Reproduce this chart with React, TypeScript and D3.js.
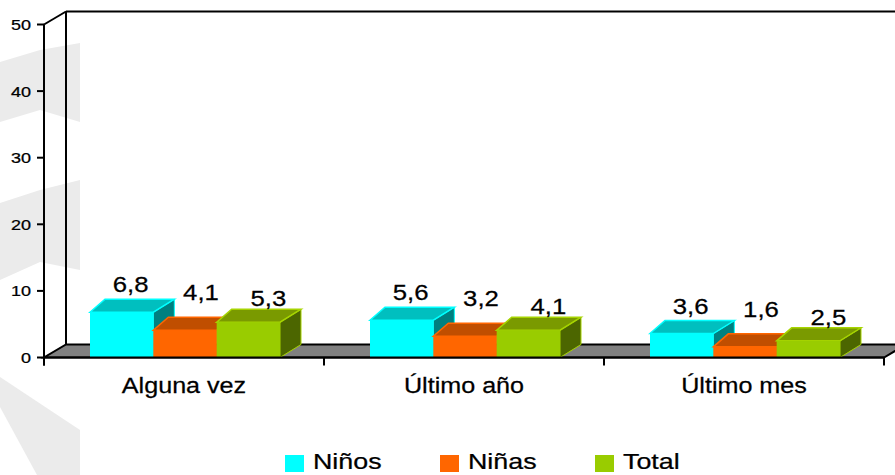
import React from 'react';
import * as d3 from 'd3';

// chart data
const categories = ['Alguna vez', 'Último año', 'Último mes'];
const seriesNames = ['Niños', 'Niñas', 'Total'];
const ninos = [6.8, 5.6, 3.6];
const ninas = [4.1, 3.2, 1.6];
const total = [5.3, 4.1, 2.5];
const yTicks = [0, 10, 20, 30, 40, 50];

const W = 895;
const H = 475;
const FONT = '"Liberation Sans", Arial, sans-serif';

// colours per series: front, top, side
const palette = [
  { front: '#00FFFF', top: '#00BFBF', side: '#008080', edge: '#00FFFF' },
  { front: '#FF6600', top: '#C04E00', side: '#8A3A00', edge: '#FF6600' },
  { front: '#99CC00', top: '#7A9A00', side: '#4C6600', edge: '#A6D400' },
];
// label offsets per series (dx from front centre, dy from bar top)
const labelOffset = [
  { dx: 9, dy: -20 },
  { dx: 16, dy: -30 },
  { dx: 20, dy: -16 },
];

const seriesValues = [ninos, ninas, total];

const depthY = -13;
const floorDx = 22;
const barDxL = 15;
const barDxR = 21;

const fmt = (v: number) => v.toFixed(1).replace('.', ',');

const T = ({ x, y, sx = 1.2, size, anchor = 'middle', children }: any) => (
  <text
    transform={`translate(${x},${y}) scale(${sx},1)`}
    textAnchor={anchor}
    fontSize={size}
    fontFamily={FONT}
    fill="#000"
    stroke="#000"
    strokeWidth={0.25}
  >
    {children}
  </text>
);

const App = () => {
  const xLeft = 44;
  const xRight = 884;
  const x0 = d3.scaleBand<string>().domain(categories).range([xLeft, xRight]);
  const x1 = d3.scaleBand<string>().domain(seriesNames).range([46, 46 + 190]);
  const y = d3.scaleLinear().domain([0, 50]).range([357.5, 24.5]);
  const base = y(0);

  const pts = (p: number[][]) => p.map((q) => q.join(',')).join(' ');

  return (
    <svg
      width={W}
      height={H}
      style={{ position: 'absolute', left: 0, top: 0, background: '#fff' }}
    >
      {/* watermark swooshes */}
      <g fill="#ebebeb">
        <polygon points="0,62 40,50 80,43 80,122 40,110 0,122" />
        <polygon points="0,203 40,190 80,180 80,270 40,262 0,280" />
        <polygon points="0,377 80,430 80,475 37,475 0,407" />
      </g>

      {/* back wall and left wall */}
      <g stroke="#000" strokeWidth={2} fill="none">
        <line x1={xLeft + floorDx} y1={y(50) + depthY} x2={W} y2={y(50) + depthY} />
        <line x1={xLeft} y1={y(50)} x2={xLeft + floorDx} y2={y(50) + depthY} />
        <line x1={xLeft + floorDx} y1={y(50) + depthY} x2={xLeft + floorDx} y2={base + depthY} />
      </g>

      {/* floor */}
      <polygon
        points={pts([
          [xLeft, base],
          [xRight, base],
          [xRight + floorDx, base + depthY],
          [xLeft + floorDx, base + depthY],
        ])}
        fill="#808080"
        stroke="#000"
        strokeWidth={2}
      />

      {/* bars */}
      {categories.map((c, ci) => (
        <g key={c}>
          {seriesNames.map((s, si) => {
            const v = seriesValues[si][ci];
            const bx0 = (x0(c) || 0) + (x1(s) || 0);
            const bx1 = bx0 + x1.bandwidth();
            const by = y(v);
            const col = palette[si];
            return (
              <g key={s}>
                <polygon
                  points={pts([
                    [bx1, by],
                    [bx1 + barDxR, by + depthY],
                    [bx1 + barDxR, base + depthY],
                    [bx1, base],
                  ])}
                  fill={col.side}
                  stroke={col.edge}
                  strokeWidth={1}
                />
                <polygon
                  points={pts([
                    [bx0, by],
                    [bx1, by],
                    [bx1 + barDxR, by + depthY],
                    [bx0 + barDxL, by + depthY],
                  ])}
                  fill={col.top}
                  stroke={col.edge}
                  strokeWidth={1.5}
                />
                <rect x={bx0} y={by} width={bx1 - bx0} height={base - by} fill={col.front} />
              </g>
            );
          })}
        </g>
      ))}

      {/* value labels */}
      {categories.map((c, ci) =>
        seriesNames.map((s, si) => {
          const v = seriesValues[si][ci];
          const cx = (x0(c) || 0) + (x1(s) || 0) + x1.bandwidth() / 2;
          return (
            <T key={c + s} x={cx + labelOffset[si].dx} y={y(v) + labelOffset[si].dy} size={22} sx={1.17}>
              {fmt(v)}
            </T>
          );
        })
      )}

      {/* front axis lines */}
      <g stroke="#000" strokeWidth={2}>
        <line x1={xLeft} y1={y(50)} x2={xLeft} y2={base + 8} />
        <line x1={xLeft} y1={base} x2={xRight} y2={base} />
        {yTicks.map((t) => (
          <line key={t} x1={xLeft - 7} y1={y(t)} x2={xLeft} y2={y(t)} />
        ))}
        {[...categories.map((c) => x0(c) || 0), xRight].map((xx, i) => (
          <line key={i} x1={xx} y1={base} x2={xx} y2={base + 8} />
        ))}
      </g>

      {/* y tick labels */}
      {yTicks.map((t) => (
        <T key={t} x={31} y={y(t) + 5.5} size={15} sx={1.2} anchor="end">
          {t}
        </T>
      ))}

      {/* category labels */}
      {categories.map((c) => (
        <T key={c} x={(x0(c) || 0) + x0.bandwidth() / 2} y={393} size={21.5} sx={1.17}>
          {c}
        </T>
      ))}

      {/* legend */}
      {seriesNames.map((s, si) => {
        const lx = [285, 440, 595][si];
        return (
          <g key={s}>
            <rect x={lx} y={455} width={19} height={17} fill={palette[si].front} />
            <T x={lx + 28} y={469} size={22} sx={1.22} anchor="start">
              {s}
            </T>
          </g>
        );
      })}
    </svg>
  );
};

export default App;
